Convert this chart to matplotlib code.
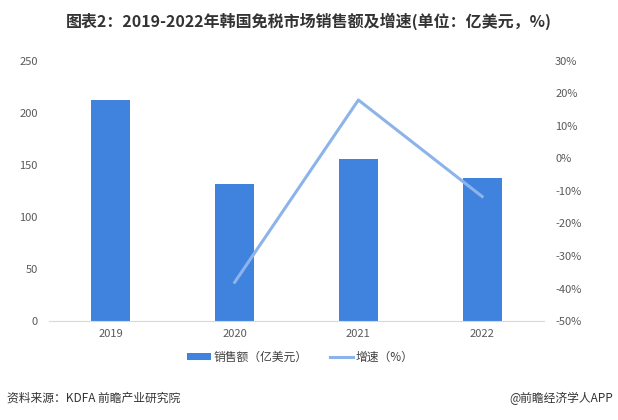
import matplotlib
matplotlib.use("Agg")
import matplotlib.pyplot as plt
from matplotlib.ticker import FuncFormatter

plt.rcParams['font.family'] = ['Noto Sans CJK SC', 'DejaVu Sans']

years = ['2019', '2020', '2021', '2022']
sales = [212.5, 131.7, 155.8, 137.5]
growth_years = ['2020', '2021', '2022']
growth = [-38.1, 18.0, -11.7]

bar_color = '#3F83DF'
line_color = '#8DB4EA'
tick_color = '#595959'

fig = plt.figure(figsize=(6.18, 4.2), dpi=100)
ax = fig.add_axes([0.0793, 0.2357, 0.8010, 0.6191])
x = list(range(len(years)))
ax.bar(x, sales, width=0.315, color=bar_color, label='销售额（亿美元）', zorder=2)
ax.set_xlim(-0.5, len(years) - 0.5)
ax.set_ylim(0, 250)
ax.set_yticks(range(0, 251, 50))
ax.set_xticks(x)
ax.set_xticklabels(years)
for s in ['top', 'right', 'left']:
    ax.spines[s].set_visible(False)
ax.spines['bottom'].set_color('#D9D9D9')
ax.tick_params(axis='both', length=0, colors=tick_color, labelsize=8)
ax.tick_params(axis='y', pad=8)
ax.tick_params(axis='x', pad=6)

ax2 = ax.twinx()
gx = [years.index(y) for y in growth_years]
ax2.plot(gx, growth, color=line_color, lw=2.2, label='增速（%）', zorder=3)
ax2.set_ylim(-50, 30)
ax2.set_yticks(range(-50, 31, 10))
ax2.yaxis.set_major_formatter(FuncFormatter(lambda v, p: f'{int(v)}%'))
for s in ['top', 'right', 'left', 'bottom']:
    ax2.spines[s].set_visible(False)
ax2.tick_params(axis='y', length=0, colors=tick_color, labelsize=8, pad=8)

h1, l1 = ax.get_legend_handles_labels()
h2, l2 = ax2.get_legend_handles_labels()
fig.legend(h1 + h2, l1 + l2, loc='center', bbox_to_anchor=(0.486, 0.15), ncol=2,
           frameon=False, fontsize=8.5, labelcolor='#404040', handlelength=2.0,
           handleheight=0.5, columnspacing=1.9, handletextpad=0.2)

fig.text(0.5, 0.95, '图表2：2019-2022年韩国免税市场销售额及增速(单位：亿美元，%)',
         ha='center', va='center', fontsize=11.5, fontweight='bold', color='#333333')
fig.text(0.011, 0.052, '资料来源：KDFA 前瞻产业研究院', ha='left', va='center',
         fontsize=8.5, color='#333333')
fig.text(0.992, 0.052, '@前瞻经济学人APP', ha='right', va='center',
         fontsize=8.5, color='#333333')

fig.savefig('out.png', dpi=100)
